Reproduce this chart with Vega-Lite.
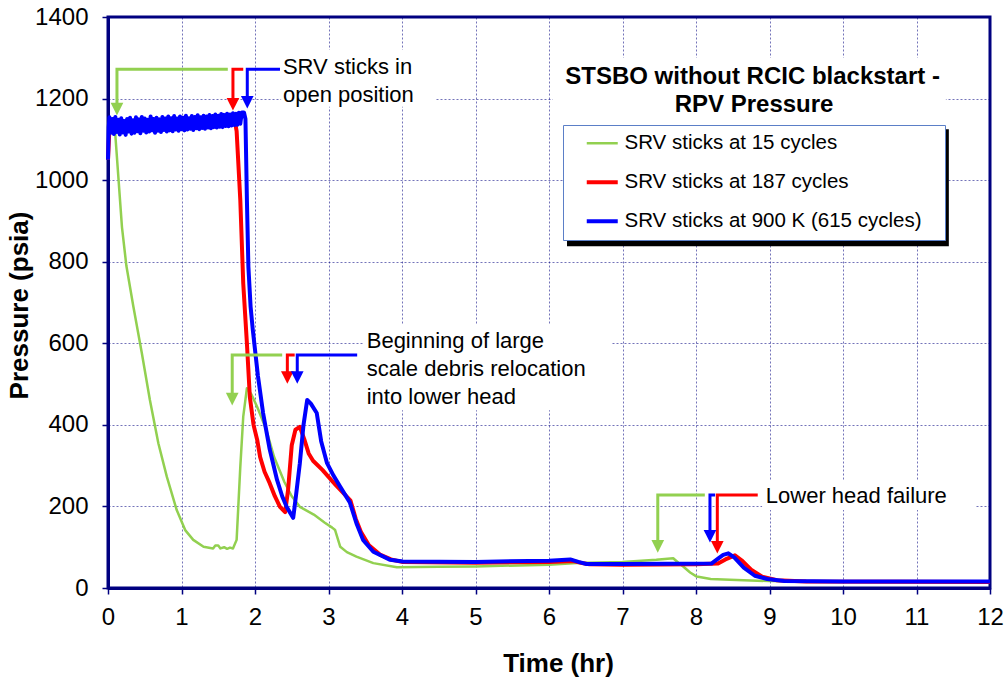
{
  "$schema": "https://vega.github.io/schema/vega-lite/v6.json",
  "width": 882,
  "height": 571,
  "autosize": "none",
  "padding": {"left": 108, "top": 17, "right": 15, "bottom": 94},
  "config": {
    "font": "Liberation Sans",
    "view": {"stroke": "#000080", "strokeWidth": 3},
    "axis": {
      "domainColor": "#000080", "domainWidth": 3,
      "tickColor": "#000080", "tickWidth": 1.5, "tickSize": 6,
      "gridColor": "#000080", "gridOpacity": 0.55, "gridDash": [2, 2], "gridWidth": 1,
      "labelFont": "Liberation Sans", "labelFontSize": 24, "labelColor": "#000000",
      "titleFont": "Liberation Sans", "titleFontSize": 26, "titleFontWeight": "bold", "titleColor": "#000000",
      "labelFlush": false, "labelOverlap": false
    }
  },
  "datasets": {
    "g": [
      {"t": 0, "p": 1050}, {"t": 0.02, "p": 1135}, {"t": 0.08, "p": 1135}, {"t": 0.1, "p": 1110},
      {"t": 0.14, "p": 1010}, {"t": 0.19, "p": 885}, {"t": 0.25, "p": 790}, {"t": 0.345, "p": 690},
      {"t": 0.46, "p": 576}, {"t": 0.57, "p": 461}, {"t": 0.685, "p": 355}, {"t": 0.8, "p": 273},
      {"t": 0.935, "p": 191}, {"t": 1.05, "p": 142}, {"t": 1.16, "p": 118}, {"t": 1.3, "p": 101},
      {"t": 1.43, "p": 97}, {"t": 1.46, "p": 104}, {"t": 1.5, "p": 104}, {"t": 1.53, "p": 97},
      {"t": 1.58, "p": 100}, {"t": 1.62, "p": 96}, {"t": 1.66, "p": 99}, {"t": 1.7, "p": 97},
      {"t": 1.75, "p": 118}, {"t": 1.8, "p": 297}, {"t": 1.84, "p": 420}, {"t": 1.89, "p": 490},
      {"t": 1.95, "p": 475}, {"t": 2.03, "p": 444}, {"t": 2.15, "p": 390}, {"t": 2.26, "p": 321},
      {"t": 2.4, "p": 260}, {"t": 2.5, "p": 225}, {"t": 2.61, "p": 199}, {"t": 2.8, "p": 180},
      {"t": 2.95, "p": 160}, {"t": 3.05, "p": 148}, {"t": 3.09, "p": 142}, {"t": 3.16, "p": 101},
      {"t": 3.25, "p": 88}, {"t": 3.38, "p": 77}, {"t": 3.61, "p": 61}, {"t": 3.93, "p": 51},
      {"t": 4.5, "p": 52}, {"t": 5, "p": 53}, {"t": 6, "p": 57}, {"t": 6.38, "p": 61},
      {"t": 7, "p": 64}, {"t": 7.46, "p": 69}, {"t": 7.69, "p": 73}, {"t": 7.76, "p": 62},
      {"t": 7.83, "p": 52}, {"t": 7.92, "p": 38}, {"t": 8.01, "p": 28}, {"t": 8.2, "p": 22},
      {"t": 8.46, "p": 20}, {"t": 9, "p": 17}, {"t": 10, "p": 16}, {"t": 12, "p": 15}
    ],
    "r": [
      {"t": 0, "p": 1050}, {"t": 0.02, "p": 1130}, {"t": 0.5, "p": 1133}, {"t": 1.0, "p": 1136},
      {"t": 1.5, "p": 1142}, {"t": 1.72, "p": 1150}, {"t": 1.75, "p": 1120}, {"t": 1.8, "p": 951},
      {"t": 1.84, "p": 747}, {"t": 1.89, "p": 600}, {"t": 1.93, "p": 468}, {"t": 1.98, "p": 400},
      {"t": 2.03, "p": 363}, {"t": 2.07, "p": 321}, {"t": 2.13, "p": 285}, {"t": 2.2, "p": 257},
      {"t": 2.27, "p": 225}, {"t": 2.34, "p": 199}, {"t": 2.41, "p": 186}, {"t": 2.45, "p": 240},
      {"t": 2.5, "p": 350}, {"t": 2.55, "p": 388}, {"t": 2.61, "p": 395}, {"t": 2.67, "p": 365},
      {"t": 2.73, "p": 330}, {"t": 2.79, "p": 312}, {"t": 2.92, "p": 289}, {"t": 3.1, "p": 252},
      {"t": 3.3, "p": 214}, {"t": 3.37, "p": 170}, {"t": 3.44, "p": 138}, {"t": 3.55, "p": 105},
      {"t": 3.7, "p": 82}, {"t": 3.85, "p": 70}, {"t": 4.0, "p": 64}, {"t": 5, "p": 62},
      {"t": 6.0, "p": 64}, {"t": 6.33, "p": 66}, {"t": 6.45, "p": 61}, {"t": 6.55, "p": 58},
      {"t": 7, "p": 57}, {"t": 8.0, "p": 58}, {"t": 8.3, "p": 60}, {"t": 8.4, "p": 70},
      {"t": 8.53, "p": 80}, {"t": 8.62, "p": 68}, {"t": 8.75, "p": 45}, {"t": 8.9, "p": 28},
      {"t": 9.1, "p": 19}, {"t": 9.5, "p": 16}, {"t": 12, "p": 15}
    ],
    "b": [
      {"t": 0, "p": 1050}, {"t": 0.01, "p": 1130},
      {"t": 0.02, "p": 1154}, {"t": 0.04, "p": 1116}, {"t": 0.06, "p": 1150}, {"t": 0.08, "p": 1113},
      {"t": 0.1, "p": 1155}, {"t": 0.12, "p": 1118}, {"t": 0.14, "p": 1148}, {"t": 0.16, "p": 1112},
      {"t": 0.18, "p": 1152}, {"t": 0.2, "p": 1117}, {"t": 0.22, "p": 1145}, {"t": 0.24, "p": 1111},
      {"t": 0.26, "p": 1150}, {"t": 0.28, "p": 1119}, {"t": 0.3, "p": 1153}, {"t": 0.32, "p": 1114},
      {"t": 0.34, "p": 1147}, {"t": 0.36, "p": 1116}, {"t": 0.38, "p": 1154}, {"t": 0.4, "p": 1120},
      {"t": 0.42, "p": 1149}, {"t": 0.44, "p": 1115}, {"t": 0.46, "p": 1155}, {"t": 0.48, "p": 1121},
      {"t": 0.5, "p": 1151}, {"t": 0.52, "p": 1117}, {"t": 0.54, "p": 1148}, {"t": 0.56, "p": 1119},
      {"t": 0.58, "p": 1156}, {"t": 0.6, "p": 1122}, {"t": 0.62, "p": 1150}, {"t": 0.64, "p": 1116},
      {"t": 0.66, "p": 1153}, {"t": 0.68, "p": 1121}, {"t": 0.7, "p": 1149}, {"t": 0.72, "p": 1118},
      {"t": 0.74, "p": 1155}, {"t": 0.76, "p": 1123}, {"t": 0.78, "p": 1151}, {"t": 0.8, "p": 1119},
      {"t": 0.82, "p": 1156}, {"t": 0.84, "p": 1122}, {"t": 0.86, "p": 1152}, {"t": 0.88, "p": 1120},
      {"t": 0.9, "p": 1157}, {"t": 0.92, "p": 1124}, {"t": 0.94, "p": 1151}, {"t": 0.96, "p": 1121},
      {"t": 0.98, "p": 1156}, {"t": 1.0, "p": 1125}, {"t": 1.02, "p": 1153}, {"t": 1.04, "p": 1122},
      {"t": 1.06, "p": 1158}, {"t": 1.08, "p": 1124}, {"t": 1.1, "p": 1152}, {"t": 1.12, "p": 1126},
      {"t": 1.14, "p": 1157}, {"t": 1.16, "p": 1123}, {"t": 1.18, "p": 1155}, {"t": 1.2, "p": 1127},
      {"t": 1.22, "p": 1159}, {"t": 1.24, "p": 1125}, {"t": 1.26, "p": 1154}, {"t": 1.28, "p": 1128},
      {"t": 1.3, "p": 1158}, {"t": 1.32, "p": 1126}, {"t": 1.34, "p": 1156}, {"t": 1.36, "p": 1129},
      {"t": 1.38, "p": 1160}, {"t": 1.4, "p": 1127}, {"t": 1.42, "p": 1157}, {"t": 1.44, "p": 1130},
      {"t": 1.46, "p": 1161}, {"t": 1.48, "p": 1129}, {"t": 1.5, "p": 1158}, {"t": 1.52, "p": 1131},
      {"t": 1.54, "p": 1162}, {"t": 1.56, "p": 1130}, {"t": 1.58, "p": 1160}, {"t": 1.6, "p": 1133},
      {"t": 1.62, "p": 1163}, {"t": 1.64, "p": 1132}, {"t": 1.66, "p": 1161}, {"t": 1.68, "p": 1134},
      {"t": 1.7, "p": 1164}, {"t": 1.72, "p": 1135}, {"t": 1.74, "p": 1163}, {"t": 1.76, "p": 1136},
      {"t": 1.78, "p": 1165}, {"t": 1.8, "p": 1138}, {"t": 1.82, "p": 1166}, {"t": 1.85, "p": 1166},
      {"t": 1.87, "p": 1150}, {"t": 1.89, "p": 950}, {"t": 1.91, "p": 788}, {"t": 1.94, "p": 690},
      {"t": 1.97, "p": 633}, {"t": 2.04, "p": 520}, {"t": 2.11, "p": 429}, {"t": 2.2, "p": 340},
      {"t": 2.3, "p": 265}, {"t": 2.37, "p": 225}, {"t": 2.43, "p": 199}, {"t": 2.52, "p": 172},
      {"t": 2.56, "p": 230}, {"t": 2.61, "p": 306}, {"t": 2.66, "p": 400}, {"t": 2.71, "p": 461},
      {"t": 2.76, "p": 452}, {"t": 2.84, "p": 429}, {"t": 2.9, "p": 360}, {"t": 2.98, "p": 306},
      {"t": 3.07, "p": 275}, {"t": 3.16, "p": 248}, {"t": 3.29, "p": 210}, {"t": 3.38, "p": 159},
      {"t": 3.47, "p": 118}, {"t": 3.61, "p": 89}, {"t": 3.84, "p": 69}, {"t": 4.01, "p": 65},
      {"t": 5, "p": 64}, {"t": 6.0, "p": 67}, {"t": 6.29, "p": 70}, {"t": 6.4, "p": 64},
      {"t": 6.51, "p": 59}, {"t": 7, "p": 59}, {"t": 8.21, "p": 60}, {"t": 8.3, "p": 72},
      {"t": 8.37, "p": 81}, {"t": 8.44, "p": 85}, {"t": 8.52, "p": 75}, {"t": 8.65, "p": 50},
      {"t": 8.8, "p": 30}, {"t": 8.97, "p": 22}, {"t": 9.2, "p": 17}, {"t": 10, "p": 16},
      {"t": 12, "p": 16}
    ],
    "arrows": [
      {"a": "1g", "s": "g", "o": 1, "t": 1.63, "p": 1272}, {"a": "1g", "s": "g", "o": 2, "t": 0.122, "p": 1272}, {"a": "1g", "s": "g", "o": 3, "t": 0.122, "p": 1180},
      {"a": "1r", "s": "r", "o": 1, "t": 1.84, "p": 1272}, {"a": "1r", "s": "r", "o": 2, "t": 1.70, "p": 1272}, {"a": "1r", "s": "r", "o": 3, "t": 1.70, "p": 1192},
      {"a": "1b", "s": "b", "o": 1, "t": 2.34, "p": 1272}, {"a": "1b", "s": "b", "o": 2, "t": 1.895, "p": 1272}, {"a": "1b", "s": "b", "o": 3, "t": 1.895, "p": 1196},
      {"a": "2g", "s": "g", "o": 1, "t": 2.37, "p": 571}, {"a": "2g", "s": "g", "o": 2, "t": 1.69, "p": 571}, {"a": "2g", "s": "g", "o": 3, "t": 1.69, "p": 470},
      {"a": "2r", "s": "r", "o": 1, "t": 2.54, "p": 571}, {"a": "2r", "s": "r", "o": 2, "t": 2.44, "p": 571}, {"a": "2r", "s": "r", "o": 3, "t": 2.44, "p": 522},
      {"a": "2b", "s": "b", "o": 1, "t": 3.39, "p": 571}, {"a": "2b", "s": "b", "o": 2, "t": 2.575, "p": 571}, {"a": "2b", "s": "b", "o": 3, "t": 2.575, "p": 522},
      {"a": "3g", "s": "g", "o": 1, "t": 8.12, "p": 228}, {"a": "3g", "s": "g", "o": 2, "t": 7.48, "p": 228}, {"a": "3g", "s": "g", "o": 3, "t": 7.48, "p": 108},
      {"a": "3b", "s": "b", "o": 1, "t": 8.26, "p": 228}, {"a": "3b", "s": "b", "o": 2, "t": 8.19, "p": 228}, {"a": "3b", "s": "b", "o": 3, "t": 8.19, "p": 133},
      {"a": "3r", "s": "r", "o": 1, "t": 8.84, "p": 228}, {"a": "3r", "s": "r", "o": 2, "t": 8.29, "p": 228}, {"a": "3r", "s": "r", "o": 3, "t": 8.29, "p": 106}
    ],
    "heads": [
      {"s": "g", "t": 0.122, "p": 1174}, {"s": "r", "t": 1.70, "p": 1186}, {"s": "b", "t": 1.895, "p": 1191},
      {"s": "g", "t": 1.69, "p": 463}, {"s": "r", "t": 2.44, "p": 516}, {"s": "b", "t": 2.575, "p": 516},
      {"s": "g", "t": 7.48, "p": 102}, {"s": "b", "t": 8.19, "p": 127}, {"s": "r", "t": 8.29, "p": 100}
    ],
    "notes": [
      {"t": 2.38, "p": 1260, "txt": "SRV sticks in"},
      {"t": 2.38, "p": 1192, "txt": "open position"},
      {"t": 3.52, "p": 588, "txt": "Beginning of large"},
      {"t": 3.52, "p": 520, "txt": "scale debris relocation"},
      {"t": 3.52, "p": 451, "txt": "into lower head"},
      {"t": 8.95, "p": 208, "txt": "Lower head failure"}
    ],
    "titles": [
      {"t": 8.77, "p": 1236, "txt": "STSBO without RCIC blackstart -"},
      {"t": 8.79, "p": 1167, "txt": "RPV Pressure"}
    ],
    "boxes": [
      {"t": 6.05, "t2": 11.4, "p": 1300, "p2": 1135},
      {"t": 2.355, "t2": 4.45, "p": 1320, "p2": 1180},
      {"t": 3.47, "t2": 6.85, "p": 645, "p2": 436},
      {"t": 8.9, "t2": 11.8, "p": 265, "p2": 191}
    ],
    "shadow": [
      {"t": 6.245, "t2": 11.44, "p": 1125, "p2": 838}
    ]
  },
  "encoding": {
    "x": {"field": "t", "type": "quantitative",
      "scale": {"domain": [0, 12], "nice": false, "zero": false},
      "axis": {"title": "Time (hr)", "values": [0,1,2,3,4,5,6,7,8,9,10,11,12], "labelPadding": 11,
        "titleX": 450, "titleY": 83, "titleBaseline": "alphabetic"}},
    "y": {"field": "p", "type": "quantitative",
      "scale": {"domain": [0, 1400], "nice": false},
      "axis": {"title": "Pressure (psia)", "values": [0,200,400,600,800,1000,1200,1400], "format": "d", "labelPadding": 14,
        "titleX": -76, "titleY": 288}}
  },
  "layer": [
    {"data": {"name": "shadow"}, "mark": {"type": "rect", "fill": "#000000"},
     "encoding": {"x2": {"field": "t2"}, "y2": {"field": "p2"}}},
    {"data": {"name": "boxes"}, "mark": {"type": "rect", "fill": "#ffffff"},
     "encoding": {"x2": {"field": "t2"}, "y2": {"field": "p2"}}},
    {"data": {"name": "g"}, "mark": {"type": "line", "strokeJoin": "round", "strokeWidth": 2.5},
     "encoding": {
       "color": {"datum": "SRV sticks at 15 cycles", "type": "nominal",
         "scale": {"domain": ["SRV sticks at 15 cycles", "SRV sticks at 187 cycles", "SRV sticks at 900 K (615 cycles)"], "range": ["#92D050", "#FF0000", "#0000FF"]},
         "legend": {"title": "\u00a0", "orient": "none", "legendX": 455, "legendY": 108, "fillColor": "#ffffff", "strokeColor": "#5B7FC7", "padding": 8, "symbolType": "stroke", "symbolSize": 961, "symbolStrokeWidth": 4, "symbolOffset": 21, "labelFont": "Liberation Sans", "labelFontSize": 20.5, "labelColor": "#000000", "labelOffset": 12, "labelLimit": 600, "rowPadding": 18, "titleOrient": "right", "titlePadding": 16, "titleFontSize": 10,
           "encode": {"symbols": {"update": {"strokeWidth": {"signal": "datum.value === 'SRV sticks at 15 cycles' ? 2.5 : 4"}}}}}}
     }},
    {"data": {"name": "r"}, "mark": {"type": "line", "strokeJoin": "round", "strokeWidth": 4},
     "encoding": {
       "color": {"datum": "SRV sticks at 187 cycles", "type": "nominal"}
     }},
    {"data": {"name": "b"}, "mark": {"type": "line", "strokeJoin": "round", "strokeWidth": 4},
     "encoding": {
       "color": {"datum": "SRV sticks at 900 K (615 cycles)", "type": "nominal"}
     }},
    {"data": {"name": "arrows"}, "mark": {"type": "line", "strokeWidth": 3, "strokeJoin": "miter", "strokeCap": "butt"},
     "encoding": {
       "detail": {"field": "a", "type": "nominal"},
       "order": {"field": "o", "type": "quantitative"},
       "stroke": {"field": "s", "type": "nominal", "scale": {"domain": ["g", "r", "b"], "range": ["#92D050", "#FF0000", "#0000FF"]}, "legend": null}
     }},
    {"data": {"name": "heads"}, "mark": {"type": "point", "shape": "M-1,-1L1,-1L0,1Z", "filled": true, "size": 160, "opacity": 1, "strokeWidth": 0},
     "encoding": {
       "fill": {"field": "s", "type": "nominal", "scale": {"domain": ["g", "r", "b"], "range": ["#92D050", "#FF0000", "#0000FF"]}, "legend": null}
     }},
    {"data": {"name": "notes"}, "mark": {"type": "text", "align": "left", "baseline": "alphabetic", "font": "Liberation Sans", "fontSize": 22, "color": "#000000"},
     "encoding": {"text": {"field": "txt", "type": "nominal"}}},
    {"data": {"name": "titles"}, "mark": {"type": "text", "align": "center", "baseline": "alphabetic", "font": "Liberation Sans", "fontSize": 24, "fontWeight": "bold", "color": "#000000"},
     "encoding": {"text": {"field": "txt", "type": "nominal"}}}
  ]
}
